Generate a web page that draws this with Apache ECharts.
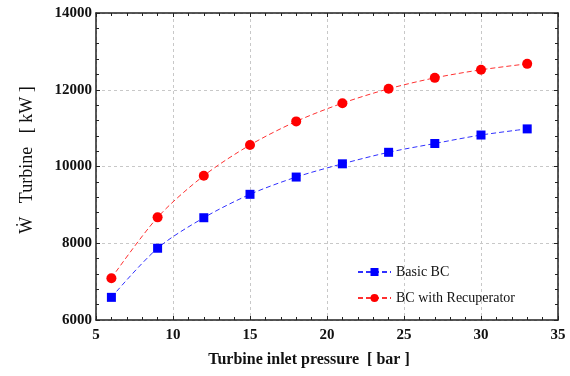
<!DOCTYPE html>
<html>
<head>
<meta charset="utf-8">
<script src="https://cdn.jsdelivr.net/npm/echarts@6/dist/echarts.min.js"></script>
<style>
  html, body { margin: 0; padding: 0; background: #fff; }
  #main { width: 570px; height: 376px; }
</style>
</head>
<body>
<div id="main"></div>
<script>
// turbine inlet pressure [bar]
var pressure = [6, 9, 12, 15, 18, 21, 24, 27, 30, 33];
// turbine work [kW]
var basicBC = [6590, 7870, 8665, 9275, 9725, 10070, 10370, 10600, 10820, 10980];
var recupBC = [7090, 8675, 9760, 10560, 11175, 11650, 12025, 12310, 12520, 12675];

function pairs(xs, ys) {
    var out = [];
    for (var i = 0; i < xs.length; ++i) out.push([xs[i], ys[i]]);
    return out;
}

var font = "'Liberation Serif','Times New Roman',serif";
var gridLine = { show: true, lineStyle: { color: '#c8c8c8', type: [3, 3], width: 1 } };

function axisBase(extra) {
    var a = {
        axisLine: { show: true, onZero: false, lineStyle: { color: '#222', width: 1.5 } },
        axisTick: { show: true, inside: true, length: 4, lineStyle: { color: '#222' } },
        minorTick: { show: true, splitNumber: 5, length: 3, lineStyle: { color: '#222' } }
    };
    for (var k in extra) a[k] = extra[k];
    return a;
}

var chart = echarts.init(document.getElementById('main'));
chart.setOption({
    animation: false,
    textStyle: { fontFamily: font },
    grid: { left: 96, top: 13, right: 12, bottom: 56 },
    legend: {
        orient: 'vertical',
        left: 352, top: 260,
        itemGap: 12,
        itemWidth: 33, itemHeight: 10,
        textStyle: { fontFamily: font, fontSize: 14, color: '#111' },
        data: ['Basic BC', 'BC with Recuperator']
    },
    xAxis: [
        axisBase({
            type: 'value', min: 5, max: 35, interval: 5,
            name: 'Turbine inlet pressure  [ bar ]',
            nameLocation: 'middle', nameGap: 32,
            nameTextStyle: { fontFamily: font, fontSize: 16, fontWeight: 'bold', color: '#111', padding: [0, 36, 0, 0] },
            axisLabel: { fontFamily: font, fontSize: 15, fontWeight: 'bold', color: '#111', margin: 8 },
            splitLine: gridLine
        }),
        axisBase({
            type: 'value', min: 5, max: 35, interval: 5, position: 'top',
            axisLabel: { show: false }, splitLine: { show: false }
        })
    ],
    yAxis: [
        axisBase({
            type: 'value', min: 6000, max: 14000, interval: 2000,
            name: 'Ẇ   Turbine   [ kW ]',
            nameLocation: 'middle', nameGap: 60,
            nameTextStyle: { fontFamily: font, fontSize: 18, color: '#111', padding: [0, 0, 0, 13] },
            axisLabel: { fontFamily: font, fontSize: 15, fontWeight: 'bold', color: '#111', margin: 4,
                         formatter: function (v) { return String(v); } },
            splitLine: gridLine
        }),
        axisBase({
            type: 'value', min: 6000, max: 14000, interval: 2000, position: 'right',
            axisLabel: { show: false }, splitLine: { show: false }
        })
    ],
    series: [
        {
            name: 'Basic BC', type: 'line', smooth: 0.3,
            data: pairs(pressure, basicBC),
            symbol: 'rect', symbolSize: 9,
            itemStyle: { color: '#0000ff' },
            lineStyle: { color: '#3030ff', width: 1, type: [5, 3] }
        },
        {
            name: 'BC with Recuperator', type: 'line', smooth: 0.3,
            data: pairs(pressure, recupBC),
            symbol: 'circle', symbolSize: 10,
            itemStyle: { color: '#ff0000' },
            lineStyle: { color: '#ff3030', width: 1, type: [5, 3] }
        }
    ]
});
</script>
</body>
</html>
